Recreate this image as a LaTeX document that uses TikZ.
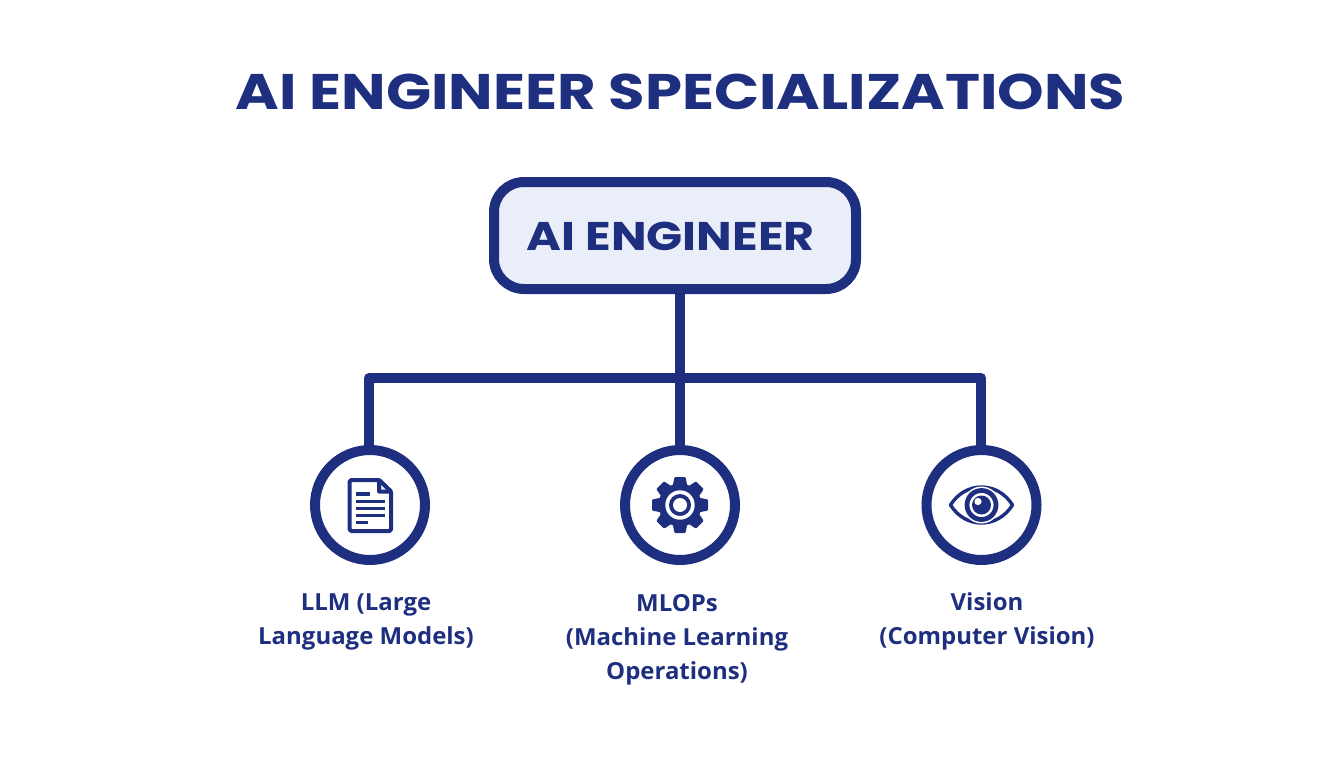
\documentclass[tikz,border=0pt]{standalone}
\usepackage{fontspec}
\setmainfont{Poppins}
\newfontfamily\widefont[FakeStretch=1.185]{Poppins}
\newfontfamily\labelfont[FakeStretch=1.02]{Open Sans}
\definecolor{navy}{HTML}{1F2F80}
\definecolor{pale}{HTML}{EAEEF9}
\tikzset{
  x=1pt,y=-1pt,
  conn/.style={draw=navy,line width=10pt},
  rootbox/.style={draw=navy,fill=pale,line width=10pt,rounded corners=30pt,minimum width=362pt,minimum height=107pt,inner sep=0pt,text=navy},
  spec/.style={circle,draw=navy,fill=white,line width=10pt,minimum size=110pt,inner sep=0pt},
  lab/.style={align=center,text=navy,font=\labelfont\bfseries\fontsize{23.5}{34}\selectfont,anchor=north},
  ink/.style={draw=navy,line width=4pt,line join=round,line cap=round},
}
\begin{document}
\begin{tikzpicture}
\useasboundingbox (0,0) rectangle (1344,768);
\fill[white] (0,0) rectangle (1344,768);
\node[text=navy,font=\widefont\bfseries\fontsize{50}{60}\selectfont] (title) at (680.5,92) {AI ENGINEER SPECIALIZATIONS};
\coordinate (jl) at (369,378);
\coordinate (jm) at (680,378);
\coordinate (jr) at (981,378);
\draw[conn,line join=round] (369,450) -- (jl) -- (jr) -- (981,450);
\node[rootbox] (root) at (675,235.5) {};
\node[text=navy,font=\widefont\bfseries\fontsize{40}{48}\selectfont] (roottext) at (670.5,236) {AI ENGINEER};
\draw[conn] (680,289) -- (jm);
\node[spec,at={(370,505)}] (llm) {};
\node[spec,at={(680,505)}] (mlops) {};
\node[spec,at={(981.5,505)}] (vision) {};
\draw[conn] (jm) -- (mlops.north);
% document icon
\draw[ink,rounded corners=1.5pt] (379,480) -- (349.7,480) -- (349.7,531) -- (391,531) -- (391,491.5) -- cycle;
\draw[ink,fill=pale] (379,480) -- (379,491.5) -- (391,491.5) -- cycle;
\foreach \yy/\xx in {494/370,501.3/385,508.7/385,515.7/385,522.7/367.7}
  \draw[navy,line width=3.2pt] (355.7,\yy) -- (\xx,\yy);
% gear icon
\begin{scope}[shift={(680,505)}]
  \fill[navy] (0,0) circle (21.5);
  \foreach \a in {0,45,...,315}
    \fill[navy,rotate=\a,rounded corners=1pt] (-7.5,-18) -- (-5.5,-28) -- (5.5,-28) -- (7.5,-18) -- cycle;
  \fill[white] (0,0) circle (14.7);
  \fill[navy] (0,0) circle (11);
  \fill[white] (0,0) circle (7);
\end{scope}
% eye icon
\begin{scope}[shift={(981.5,505)}]
  \draw[navy,line width=3.4pt,line join=round] (-31,0) .. controls (-16,-24) and (16,-24) .. (31,0) .. controls (16,24) and (-16,24) .. (-31,0) -- cycle;
  \fill[white] (0,0) circle (18.5);
  \draw[navy,line width=4.8pt] (0,0) circle (14.5);
  \fill[navy] (0,0) circle (9.5);
  \fill[white] (-3.5,-3.5) circle (3.6);
\end{scope}
\node[lab] (t1) at (366,590.5) {LLM (Large\\Language Models)};
\node[lab] (t2) at (677,590.5) {MLOPs\\(Machine Learning\\Operations)};
\node[lab] (t3) at (987,589) {Vision\\(Computer Vision)};
\end{tikzpicture}
\end{document}
